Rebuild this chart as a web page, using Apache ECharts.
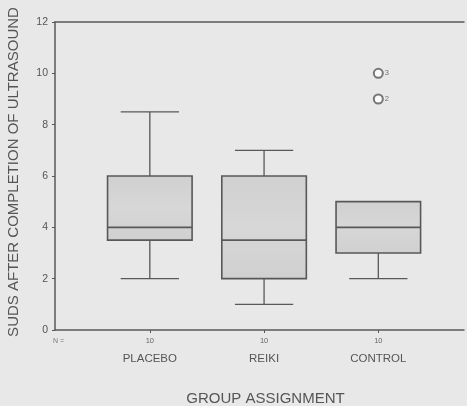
<!DOCTYPE html>
<html>
<head>
<meta charset="utf-8">
<script src="https://cdn.jsdelivr.net/npm/echarts@6/dist/echarts.min.js"></script>
<style>
html,body{margin:0;padding:0;background:#e8e8e8;}
#chart{width:467px;height:406px;}
</style>
</head>
<body>
<div id="chart"></div>
<script>
// ---- data ----
const categories = ['PLACEBO', 'REIKI', 'CONTROL'];
const nCounts = [10, 10, 10];
// [min, Q1, median, Q3, max]
const placeboBox = [2, 3.5, 4, 6, 8.5];
const reikiBox = [1, 2, 3.5, 6, 7];
const controlBox = [2, 3, 4, 5, 5];
// outliers: [group position, value, case label]
const outliers = [[3, 10, '3'], [3, 9, '2']];
const yTicks = [0, 2, 4, 6, 8, 10, 12];

const boxes = [placeboBox, reikiBox, controlBox];
const boxData = boxes.map((b, i) => [i + 1].concat(b));
const catPositions = categories.map((c, i) => i + 1);

const FONT = '"Liberation Sans", Arial, sans-serif';
const LINE = '#585858';

const chart = echarts.init(document.getElementById('chart'), null, {renderer: 'canvas'});

function renderBox(params, api) {
  const x = api.value(0);
  const vals = [1, 2, 3, 4, 5].map(k => api.value(k));
  const pMin = api.coord([x, vals[0]]);
  const pQ1 = api.coord([x, vals[1]]);
  const pMed = api.coord([x, vals[2]]);
  const pQ3 = api.coord([x, vals[3]]);
  const pMax = api.coord([x, vals[4]]);
  const bw = api.size([0.74, 0])[0];
  const cw = api.size([0.51, 0])[0];
  const cx = pMed[0];
  const lineStyle = {stroke: LINE, lineWidth: 1.3, fill: null};
  const children = [];
  if (vals[4] > vals[3]) {
    children.push({type: 'line', shape: {x1: cx, y1: pQ3[1], x2: cx, y2: pMax[1]}, style: lineStyle});
    children.push({type: 'line', shape: {x1: cx - cw / 2, y1: pMax[1], x2: cx + cw / 2, y2: pMax[1]}, style: lineStyle});
  }
  if (vals[0] < vals[1]) {
    children.push({type: 'line', shape: {x1: cx, y1: pQ1[1], x2: cx, y2: pMin[1]}, style: lineStyle});
    children.push({type: 'line', shape: {x1: cx - cw / 2, y1: pMin[1], x2: cx + cw / 2, y2: pMin[1]}, style: lineStyle});
  }
  children.push({
    type: 'rect',
    shape: {x: cx - bw / 2, y: pQ3[1], width: bw, height: pQ1[1] - pQ3[1]},
    style: {
      fill: new echarts.graphic.LinearGradient(0, 0, 0, 1, [
        {offset: 0, color: '#d0d0d0'},
        {offset: 0.5, color: '#d7d7d7'},
        {offset: 1, color: '#d0d0d0'}
      ]),
      stroke: LINE, lineWidth: 1.6
    }
  });
  children.push({type: 'line', shape: {x1: cx - bw / 2, y1: pMed[1], x2: cx + bw / 2, y2: pMed[1]}, style: {stroke: LINE, lineWidth: 1.8}});
  return {type: 'group', children: children};
}

chart.setOption({
  backgroundColor: '#e8e8e8',
  animation: false,
  grid: {left: 55, top: 22, right: 3, bottom: 76, containLabel: false, outerBoundsMode: 'none'},
  xAxis: [{
    type: 'value',
    min: 0.17,
    max: 3.75,
    splitLine: {show: false},
    axisLine: {show: true, lineStyle: {color: LINE, width: 1.5}},
    axisTick: {show: true, customValues: catPositions, length: 3, lineStyle: {color: LINE}},
    axisLabel: {
      show: true,
      customValues: [0.2].concat(catPositions),
      margin: 4,
      formatter: function (v) {
        if (v < 0.5) return '{nn|N =}';
        const i = Math.round(v) - 1;
        return '{n|' + nCounts[i] + '}\n{c|' + categories[i] + '}';
      },
      rich: {
        nn: {fontSize: 7, fontFamily: FONT, color: '#777', lineHeight: 14, align: 'left'},
        n: {fontSize: 7.5, fontFamily: FONT, color: '#666', lineHeight: 14},
        c: {fontSize: 11.5, fontFamily: FONT, color: '#555', lineHeight: 22}
      }
    },
    name: 'GROUP ASSIGNMENT',
    nameLocation: 'middle',
    nameGap: 61,
    nameTextStyle: {fontSize: 15, fontFamily: FONT, color: '#555', padding: [0, 0, 0, 12]}
  }, {
    type: 'value',
    position: 'top',
    min: 0.17,
    max: 3.75,
    splitLine: {show: false},
    axisLine: {show: true, lineStyle: {color: LINE, width: 1.5}},
    axisTick: {show: false},
    axisLabel: {show: false}
  }],
  yAxis: {
    type: 'value',
    min: 0,
    max: 12,
    interval: 2,
    splitLine: {show: false},
    axisLine: {show: true, lineStyle: {color: LINE, width: 1.5}},
    axisTick: {show: true, length: 3, lineStyle: {color: LINE}},
    axisLabel: {
      margin: 7, fontSize: 10.5, fontFamily: FONT, color: '#555',
      formatter: v => (yTicks.indexOf(v) >= 0 ? String(v) : '')
    },
    name: 'SUDS AFTER COMPLETION OF ULTRASOUND',
    nameLocation: 'middle',
    nameGap: 34,
    nameTextStyle: {fontSize: 15, fontFamily: FONT, color: '#555', padding: [0, 0, 0, 8]}
  },
  series: [{
    type: 'custom',
    renderItem: renderBox,
    data: boxData,
    encode: {x: 0, y: [1, 2, 3, 4, 5]},
    clip: false,
    z: 2
  }, {
    type: 'scatter',
    data: outliers,
    symbol: 'emptyCircle',
    symbolSize: 9,
    itemStyle: {color: LINE, borderColor: LINE, borderWidth: 1.2},
    label: {
      show: true, position: 'right', distance: 1,
      formatter: p => p.data[2],
      fontSize: 7.5, fontFamily: FONT, color: '#555'
    },
    z: 3
  }]
});
</script>
</body>
</html>
